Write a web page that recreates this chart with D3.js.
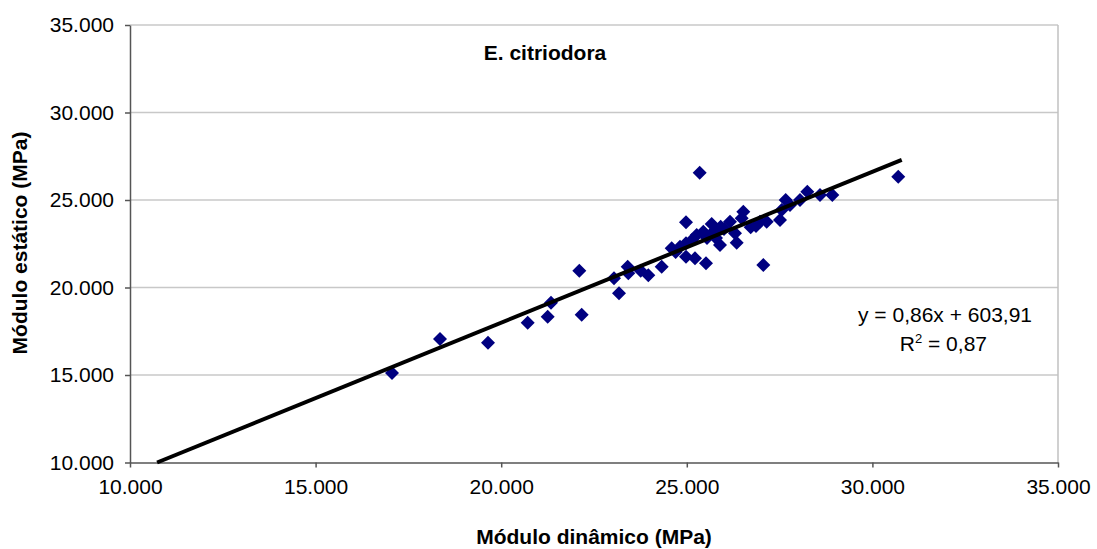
<!DOCTYPE html>
<html>
<head>
<meta charset="utf-8">
<script src="https://cdn.jsdelivr.net/npm/d3@7"></script>
<style>
  body { margin: 0; background: #fff; }
  text { font-family: "Liberation Sans", Arial, sans-serif; fill: #000; }
</style>
</head>
<body>
<script>
// Data (MPa)
const dinamico = [17058, 18351, 19644, 20714, 21253, 21342, 22104, 22169, 23039, 23173,
  23408, 23424, 23758, 23963, 24324, 24593, 24817, 24979, 24979, 25221,
  25517, 24979, 25267, 25445, 25671, 25714, 25894, 25913, 26164, 26299,
  26344, 26522, 26479, 26721, 27061, 26972, 27152, 27511, 27557, 27664,
  28049, 28246, 28588, 28920, 30697, 25347, 25140, 25544, 25786, 26002,
  26864, 27780, 24700];
const estatico = [15114, 17057, 16846, 17988, 18331, 19131, 20960, 18445, 20525, 19668,
  21188, 20811, 20960, 20697, 21188, 22240, 22331, 22525, 21760, 21668,
  21382, 23725, 23000, 23188, 23628, 23188, 22428, 23474, 23760, 23097,
  22560, 24331, 23954, 23440, 21285, 23760, 23760, 23857, 24428, 25000,
  25000, 25474, 25285, 25285, 26331, 26559, 22714, 22828, 22828, 23343,
  23514, 24714, 22028];
// trend line ends as drawn
const trendX = [10730, 30790];
const trendY = [10000, 27290];
const ticks = [10000, 15000, 20000, 25000, 30000, 35000];
const titulo = 'E. citriodora';
const equacao = 'y = 0,86x + 603,91';

const width = 1097, height = 549;
const fmt = d => d3.format(',')(d).replace(/,/g, '.');

const svg = d3.select('body')
        .append('svg')
        .attr('width', width)
        .attr('height', height);

const x = d3.scaleLinear().domain([10000, 35000]).range([130, 1058]);
const y = d3.scaleLinear().domain([10000, 35000]).range([462.5, 25]);

// gridlines
svg.append('g')
    .selectAll('line')
    .data(ticks.slice(1))
    .join('line')
        .attr('x1', 130).attr('x2', 1058)
        .attr('y1', d => y(d)).attr('y2', d => y(d))
        .attr('stroke', '#c8c8c8').attr('stroke-width', 1.5);

// right border
svg.append('line')
    .attr('x1', 1058).attr('x2', 1058)
    .attr('y1', 25).attr('y2', 462.5)
    .attr('stroke', '#c0c0c0').attr('stroke-width', 1.5);

// axes
const gx = svg.append('g')
    .attr('transform', `translate(0,${y(10000)})`)
    .call(d3.axisBottom(x).tickValues(ticks).tickFormat(fmt).tickSizeInner(5).tickSizeOuter(0).tickPadding(12));
const gy = svg.append('g')
    .attr('transform', `translate(${x(10000)},0)`)
    .call(d3.axisLeft(y).tickValues(ticks).tickFormat(fmt).tickSizeInner(5).tickSizeOuter(0).tickPadding(11));

[gx, gy].forEach(g => {
    g.select('.domain').attr('stroke', '#555').attr('stroke-width', 1.5);
    g.selectAll('.tick line').attr('stroke', '#555').attr('stroke-width', 1.5);
    g.selectAll('.tick text')
        .style('font-family', '"Liberation Sans", Arial, sans-serif')
        .style('font-size', '21px')
        .attr('fill', '#000');
});

// points
const pts = dinamico.map((d, i) => ({ x: d, y: estatico[i] }));
const diamond = d3.symbol().type(d3.symbolSquare).size(98);
svg.append('g')
    .selectAll('path')
    .data(pts)
    .join('path')
        .attr('d', diamond)
        .attr('transform', d => `translate(${x(d.x)},${y(d.y)}) rotate(45)`)
        .attr('fill', '#000080');

// trend line
svg.append('line')
    .attr('x1', x(trendX[0])).attr('y1', y(trendY[0]))
    .attr('x2', x(trendX[1])).attr('y2', y(trendY[1]))
    .attr('stroke', '#000').attr('stroke-width', 4);

// texts
svg.append('text')
    .attr('x', 545).attr('y', 60)
    .attr('text-anchor', 'middle')
    .style('font-size', '21px').style('font-weight', 'bold')
    .text(titulo);

svg.append('text')
    .attr('x', 1032).attr('y', 322)
    .attr('text-anchor', 'end')
    .style('font-size', '21px')
    .text(equacao);

const r2 = svg.append('text')
    .attr('x', 987).attr('y', 351)
    .attr('text-anchor', 'end')
    .style('font-size', '21px');
r2.append('tspan').text('R');
r2.append('tspan').attr('dy', -8).style('font-size', '13px').text('2');
r2.append('tspan').attr('dy', 8).text(' = 0,87');

svg.append('text')
    .attr('x', 594).attr('y', 544)
    .attr('text-anchor', 'middle')
    .style('font-size', '21px').style('font-weight', 'bold')
    .text('Módulo dinâmico (MPa)');

svg.append('text')
    .attr('transform', 'translate(27,243) rotate(-90)')
    .attr('text-anchor', 'middle')
    .style('font-size', '21px').style('font-weight', 'bold')
    .text('Módulo estático (MPa)');
</script>
</body>
</html>
